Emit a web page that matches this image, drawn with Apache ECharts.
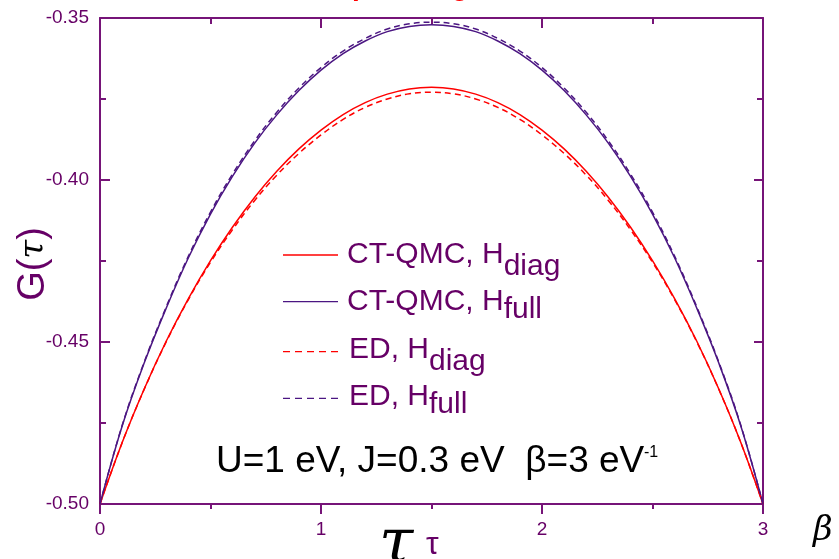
<!DOCTYPE html>
<html>
<head>
<meta charset="utf-8">
<script src="https://cdn.jsdelivr.net/npm/echarts@6/dist/echarts.min.js"></script>
<style>
  html, body { margin: 0; padding: 0; background: #ffffff; }
  #chart { width: 839px; height: 559px; }
</style>
</head>
<body>
<div id="chart"></div>
<script>
// Imaginary-time grid (0 .. beta = 3)
const tau = [0.0, 0.1, 0.2, 0.3, 0.4, 0.5, 0.6, 0.7, 0.8, 0.9, 1.0,
             1.1, 1.2, 1.3, 1.4, 1.5, 1.6, 1.7, 1.8, 1.9, 2.0,
             2.1, 2.2, 2.3, 2.4, 2.5, 2.6, 2.7, 2.8, 2.9, 3.0];

// G(tau), CT-QMC with the diagonal Hamiltonian
const ctqmcDiag = [-0.5000, -0.4811, -0.4645, -0.4497, -0.4366, -0.4249, -0.4145, -0.4053, -0.3973, -0.3904, -0.3846,
                   -0.3798, -0.3761, -0.3735, -0.3719, -0.3714, -0.3719, -0.3735, -0.3761, -0.3798, -0.3846,
                   -0.3904, -0.3973, -0.4053, -0.4145, -0.4249, -0.4366, -0.4497, -0.4645, -0.4811, -0.5000];

// G(tau), CT-QMC with the full Hamiltonian
const ctqmcFull = [-0.5000, -0.4760, -0.4565, -0.4395, -0.4240, -0.4105, -0.3988, -0.3886, -0.3799, -0.3724, -0.3661,
                   -0.3610, -0.3571, -0.3542, -0.3526, -0.3521, -0.3526, -0.3542, -0.3571, -0.3610, -0.3661,
                   -0.3724, -0.3799, -0.3886, -0.3988, -0.4105, -0.4240, -0.4395, -0.4565, -0.4760, -0.5000];

// G(tau), exact diagonalization, diagonal Hamiltonian
const edDiag = [-0.5000, -0.4811, -0.4646, -0.4499, -0.4369, -0.4254, -0.4153, -0.4063, -0.3985, -0.3918, -0.3861,
                -0.3813, -0.3776, -0.3750, -0.3734, -0.3729, -0.3734, -0.3750, -0.3776, -0.3813, -0.3861,
                -0.3918, -0.3985, -0.4063, -0.4153, -0.4254, -0.4369, -0.4499, -0.4646, -0.4811, -0.5000];

// G(tau), exact diagonalization, full Hamiltonian
const edFull = [-0.5000, -0.4758, -0.4562, -0.4391, -0.4235, -0.4099, -0.3981, -0.3879, -0.3791, -0.3716, -0.3653,
                -0.3602, -0.3563, -0.3534, -0.3518, -0.3513, -0.3518, -0.3534, -0.3563, -0.3602, -0.3653,
                -0.3716, -0.3791, -0.3879, -0.3981, -0.4099, -0.4235, -0.4391, -0.4562, -0.4758, -0.5000];

const xTickLabels = ['0', '1', '2', '3'];
const yTickLabels = ['-0.50', '-0.45', '-0.40', '-0.35'];

const AXIS = '#761478';
const LABEL = '#660066';
const RED = '#ff0000';
const PURPLE = '#4b1682';
const SANS = 'Liberation Sans, Arial, sans-serif';
const SERIF = 'DejaVu Serif, serif';

const pairs = ys => tau.map((t, i) => [t, ys[i]]);

function frameAxis(extra) {
  return Object.assign({
    type: 'value',
    axisLine: { show: true, onZero: false, lineStyle: { color: AXIS, width: 2 } },
    splitLine: { show: false }
  }, extra);
}

const chart = echarts.init(document.getElementById('chart'), null, { renderer: 'canvas' });

const legendRows = [
  { y: 255, ty: 254.6, color: RED, dash: null, main: 'CT-QMC, H', sub: 'diag', pad: 24, x: 347 },
  { y: 301.7, ty: 301.6, color: PURPLE, dash: null, main: 'CT-QMC, H', sub: 'full', pad: 16, x: 347 },
  { y: 351.7, ty: 349.6, color: RED, dash: [7, 5], main: 'ED, H', sub: 'diag', pad: 24, x: 349 },
  { y: 398.3, ty: 396.3, color: PURPLE, dash: [7, 5], main: 'ED, H', sub: 'full', pad: 16, x: 349 }
];

const legendGraphics = [];
legendRows.forEach(r => {
  legendGraphics.push({
    type: 'line',
    shape: { x1: 283, y1: r.y, x2: 338, y2: r.y },
    style: { stroke: r.color, lineWidth: 1.3, lineDash: r.dash || null }
  });
  legendGraphics.push({
    type: 'text',
    x: r.x, y: r.ty,
    style: {
      text: '{m|' + r.main + '}{s|' + r.sub + '}',
      align: 'left', verticalAlign: 'middle',
      rich: {
        m: { fill: LABEL, fontSize: 30, fontFamily: SANS },
        s: { fill: LABEL, fontSize: 30, fontFamily: SANS, padding: [r.pad, 0, 0, 0] }
      }
    }
  });
});

const option = {
  animation: false,
  backgroundColor: '#ffffff',
  grid: { left: 100, right: 76, top: 18, bottom: 55, containLabel: false },
  xAxis: [
    frameAxis({
      position: 'bottom', min: 0, max: 3, interval: 1,
      axisTick: { show: true, inside: false, length: 10, lineStyle: { color: AXIS, width: 2 } },
      minorTick: { show: true, splitNumber: 2, length: 5, lineStyle: { color: AXIS, width: 2 } },
      axisLabel: {
        margin: 16, fontSize: 19, color: LABEL, fontFamily: SANS,
        formatter: v => xTickLabels[Math.round(v)]
      }
    }),
    frameAxis({
      position: 'top', min: 0, max: 3, interval: 1,
      axisTick: { show: true, inside: true, length: 10, lineStyle: { color: AXIS, width: 2 } },
      minorTick: { show: true, splitNumber: 2, length: 6, lineStyle: { color: AXIS, width: 2 } },
      axisLabel: { show: false }
    })
  ],
  yAxis: [
    frameAxis({
      position: 'left', min: -0.5, max: -0.35, interval: 0.05,
      axisTick: { show: true, inside: true, length: 10, lineStyle: { color: AXIS, width: 2 } },
      minorTick: { show: true, splitNumber: 2, length: 6, lineStyle: { color: AXIS, width: 2 } },
      axisLabel: {
        margin: 11, fontSize: 19, color: LABEL, fontFamily: SANS,
        formatter: v => yTickLabels[Math.round((v + 0.5) / 0.05)]
      }
    }),
    frameAxis({
      position: 'right', min: -0.5, max: -0.35, interval: 0.05,
      axisTick: { show: true, inside: true, length: 9, lineStyle: { color: AXIS, width: 2 } },
      minorTick: { show: true, splitNumber: 2, length: 6, lineStyle: { color: AXIS, width: 2 } },
      axisLabel: { show: false }
    })
  ],
  series: [
    { name: 'CT-QMC, H_diag', type: 'line', data: pairs(ctqmcDiag), smooth: 0.4, symbol: 'none',
      lineStyle: { color: RED, width: 1.5 } },
    { name: 'CT-QMC, H_full', type: 'line', data: pairs(ctqmcFull), smooth: 0.4, symbol: 'none',
      lineStyle: { color: PURPLE, width: 1.5 } },
    { name: 'ED, H_diag', type: 'line', data: pairs(edDiag), smooth: 0.4, symbol: 'none',
      lineStyle: { color: RED, width: 1.5, type: [6, 4] } },
    { name: 'ED, H_full', type: 'line', data: pairs(edFull), smooth: 0.4, symbol: 'none',
      lineStyle: { color: PURPLE, width: 1.5, type: [6, 4] } }
  ],
  graphic: [
    // heading, mostly above the visible area
    { type: 'text', x: 352, y: -13,
      style: { text: 'paramagnetic', fill: RED, fontSize: 28, fontWeight: 'bold', fontFamily: SANS,
               align: 'left', verticalAlign: 'middle' } },
    // vertical axis title G(τ)
    { type: 'text', x: 34, y: 264, rotation: Math.PI / 2,
      style: {
        text: '{g|G(}{t|τ}{g|)}', align: 'center', verticalAlign: 'middle',
        rich: {
          g: { fill: LABEL, fontSize: 38, fontFamily: SANS },
          t: { fill: '#000000', fontSize: 34, fontFamily: SERIF, fontStyle: 'italic' }
        }
      } },
    // horizontal axis title
    { type: 'text', x: 379, y: 546,
      style: { text: 'τ', fill: '#000000', fontSize: 62, fontStyle: 'italic', fontFamily: SERIF,
               align: 'left', verticalAlign: 'middle' } },
    { type: 'text', x: 426, y: 545,
      style: { text: 'τ', fill: LABEL, fontSize: 32, fontFamily: SANS,
               align: 'left', verticalAlign: 'middle' } },
    { type: 'text', x: 813, y: 531,
      style: { text: 'β', fill: '#000000', fontSize: 34, fontStyle: 'italic', fontFamily: SERIF,
               align: 'left', verticalAlign: 'middle' } },
    // model parameters
    { type: 'text', x: 216, y: 462,
      style: { text: 'U=1 eV, J=0.3 eV  β=3 eV', fill: '#000000', fontSize: 37, fontFamily: SANS,
               align: 'left', verticalAlign: 'middle' } },
    { type: 'text', x: 644, y: 453,
      style: { text: '-1', fill: '#000000', fontSize: 16, fontFamily: SANS,
               align: 'left', verticalAlign: 'middle' } }
  ].concat(legendGraphics)
};

chart.setOption(option);
</script>
</body>
</html>
